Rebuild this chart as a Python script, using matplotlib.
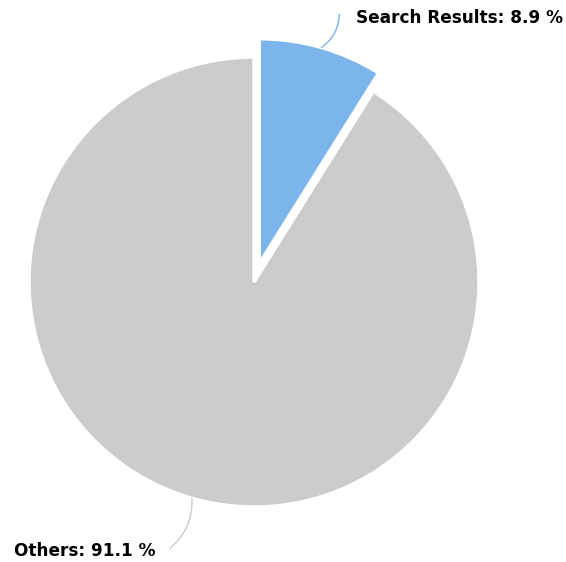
import numpy as np
import matplotlib.pyplot as plt

labels = ["Search Results", "Others"]
values = [8.9, 91.1]
colors = ["#7cb5ec", "#cccccc"]

W, H = 566, 562
fig = plt.figure(figsize=(W / 100, H / 100), dpi=100)
ax = fig.add_axes([0, 0, 1, 1])

cx, cy, R = 254, 280, 225
explode = [19, 0]  # absolute offset in data units (pixels)
ax.pie(values, colors=colors, startangle=90, counterclock=False,
       center=(cx, cy), radius=R, explode=explode,
       wedgeprops=dict(edgecolor="white", linewidth=2.5), frame=True)
ax.set_xlim(0, W)
ax.set_ylim(0, H)
ax.set_aspect("equal")
ax.axis("off")

# connectors + labels
total = sum(values)
start = 90
line_colors = ["#7cb5ec", "#cccccc"]
for i, (lab, v) in enumerate(zip(labels, values)):
    span = v / total * 360
    mid = np.deg2rad(start - span / 2)
    start -= span
    off = explode[i]
    px = cx + (R + off) * np.cos(mid)
    py = cy + (R + off) * np.sin(mid)
    txt = f"{lab}: {v:.1f} %"
    if np.cos(mid) >= 0:
        ex, ey = px + 18, py + 33
        ax.annotate("", xy=(px, py), xytext=(ex, ey),
                    arrowprops=dict(arrowstyle="-", color=line_colors[i], lw=1,
                                    connectionstyle="arc3,rad=-0.25", shrinkA=0, shrinkB=0))
        ax.text(ex + 17, ey - 4, txt, ha="left", va="center", fontsize=12.2,
                fontweight="bold", color="#000000")
    else:
        ex, ey = px - 22, py - 50
        ax.annotate("", xy=(px, py), xytext=(ex, ey),
                    arrowprops=dict(arrowstyle="-", color=line_colors[i], lw=1,
                                    connectionstyle="arc3,rad=0.25", shrinkA=0, shrinkB=0))
        ax.text(ex - 14, ey - 3, txt, ha="right", va="center", fontsize=12.2,
                fontweight="bold", color="#000000")

fig.savefig("out.png", dpi=100)
